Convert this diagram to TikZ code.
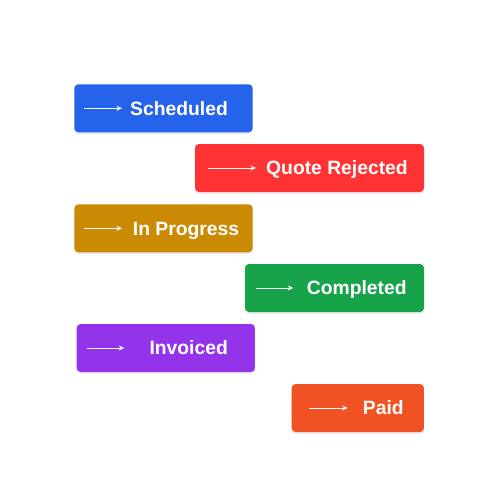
\documentclass[tikz,border=0pt]{standalone}
\usepackage{fontspec}
\setmainfont{Liberation Sans}
\usetikzlibrary{arrows.meta, calc, shadows}
\definecolor{StageBlue}{HTML}{2563EB}
\definecolor{StageRed}{HTML}{FF3333}
\definecolor{StageOchre}{HTML}{CA8A04}
\definecolor{StageGreen}{HTML}{16A34A}
\definecolor{StagePurple}{HTML}{9333EA}
\definecolor{StageOrange}{HTML}{F05224}

\begin{document}
\begin{tikzpicture}[x=1pt, y=-1pt,
   stagebox/.style={rounded corners=4pt, minimum height=48pt, inner sep=0pt,
      drop shadow={opacity=0.15, shadow xshift=0pt, shadow yshift=-2pt}},
   stagetext/.style={anchor=base west, inner sep=0pt, text=white,
      font=\fontsize{19.3}{22}\selectfont\bfseries},
   flowarrow/.style={-{Stealth[length=5.5pt, width=5pt]}, white, line width=1pt}]
   \useasboundingbox (0,0) rectangle (500,500);
   % Scheduled
   \node[stagebox, fill=StageBlue, minimum width=178.4pt] (sched) at (163.5,108.3) {};
   \coordinate (schedA) at (84,108.3);
   \coordinate (schedB) at (122,108.3);
   \draw[flowarrow] (schedA) -- (schedB);
   \node[stagetext] (schedT) at (130,115.1) {Scheduled};
   % Quote Rejected
   \node[stagebox, fill=StageRed, minimum width=229pt] (quote) at (309.5,168) {};
   \coordinate (quoteA) at (207.7,168);
   \coordinate (quoteB) at (256,168);
   \draw[flowarrow] (quoteA) -- (quoteB);
   \node[stagetext] (quoteT) at (266,174.8) {Quote Rejected};
   % In Progress
   \node[stagebox, fill=StageOchre, minimum width=178.4pt] (prog) at (163.5,228.3) {};
   \coordinate (progA) at (84,228.3);
   \coordinate (progB) at (122,228.3);
   \draw[flowarrow] (progA) -- (progB);
   \node[stagetext] (progT) at (132.7,235.1) {In Progress};
   % Completed
   \node[stagebox, fill=StageGreen, minimum width=179pt] (compl) at (334.5,288) {};
   \coordinate (complA) at (255.7,288);
   \coordinate (complB) at (293.3,288);
   \draw[flowarrow] (complA) -- (complB);
   \node[stagetext] (complT) at (306.7,294.8) {Completed};
   % Invoiced
   \node[stagebox, fill=StagePurple, minimum width=178.3pt] (inv) at (165.8,348) {};
   \coordinate (invA) at (86.7,348);
   \coordinate (invB) at (124.3,348);
   \draw[flowarrow] (invA) -- (invB);
   \node[stagetext] (invT) at (149.3,354.8) {Invoiced};
   % Paid
   \node[stagebox, fill=StageOrange, minimum width=132.3pt] (paid) at (357.8,408) {};
   \coordinate (paidA) at (309.3,408);
   \coordinate (paidB) at (347.7,408);
   \draw[flowarrow] (paidA) -- (paidB);
   \node[stagetext] (paidT) at (362.7,414.8) {Paid};
\end{tikzpicture}
\end{document}
